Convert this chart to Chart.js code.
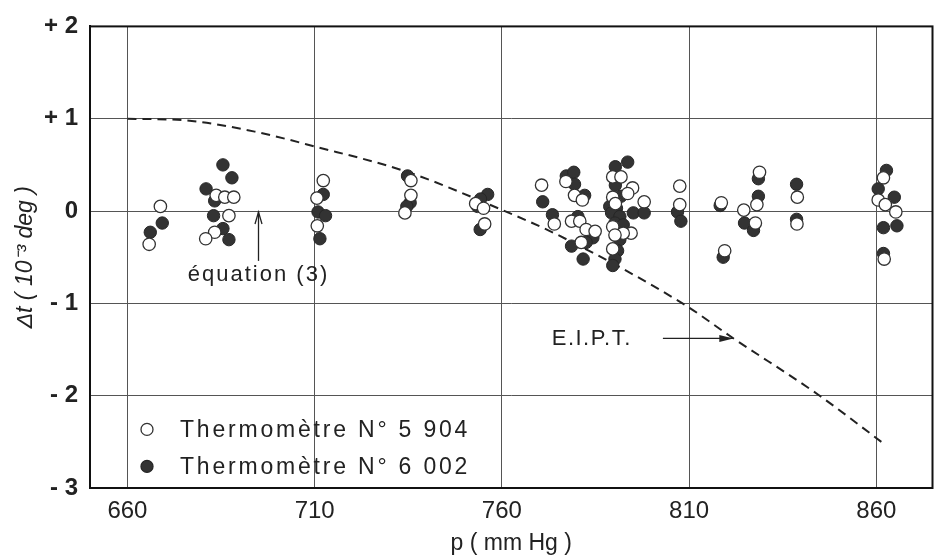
<!DOCTYPE html>
<html>
<head>
<meta charset="utf-8">
<script src="https://cdn.jsdelivr.net/npm/chart.js@4"></script>
<style>
  html, body { margin: 0; padding: 0; background: #fff; }
  #wrap { width: 940px; height: 557px; }
</style>
</head>
<body>
<div id="wrap"><canvas id="c" width="940" height="557"></canvas></div>
<script>
// pression (mm Hg) et écart Δt (10^-3 deg) — thermomètre N° 5 904 (cercles ouverts)
const p5904 = [665.8, 668.8, 683.7, 686.0, 688.4, 687.1, 683.3, 680.9,
  712.3, 710.6, 710.7, 735.7, 735.7, 734.1, 753.0, 755.1, 755.4,
  770.6, 774.0, 777.1, 779.4, 781.5, 778.6, 780.8, 782.5, 784.9, 781.2,
  789.6, 791.8, 794.9, 793.6, 789.6, 790.3, 798.0, 789.6, 794.5, 792.4, 790.2, 789.6,
  807.5, 807.5, 818.6, 819.5, 824.6, 827.7, 828.8, 828.1, 838.9, 838.8,
  861.9, 860.5, 862.4, 865.2, 862.1];
const dt5904 = [-0.36, 0.05, 0.17, 0.15, 0.15, -0.05, -0.23, -0.30,
  0.33, 0.14, -0.16, 0.33, 0.17, -0.02, 0.08, 0.03, -0.14,
  0.28, -0.14, 0.32, 0.17, 0.12, -0.11, -0.11, -0.20, -0.22, -0.34,
  0.37, 0.37, 0.25, 0.19, 0.15, 0.08, 0.10, -0.17, -0.24, -0.24, -0.26, -0.41,
  0.27, 0.07, 0.09, -0.43, 0.01, -0.13, 0.42, 0.07, 0.15, -0.14,
  0.36, 0.12, 0.07, -0.01, -0.52];

// thermomètre N° 6 002 (cercles pleins)
const p6002 = [666.1, 669.3, 685.5, 687.9, 681.0, 683.3, 683.0, 685.5, 687.1,
  712.3, 710.9, 712.9, 711.4, 734.8, 735.5, 734.6, 756.2, 754.3, 753.5, 754.2,
  770.9, 773.5, 777.2, 779.2, 779.4, 782.1, 780.3, 784.3, 782.5, 778.6, 781.7,
  793.6, 790.3, 790.3, 791.8, 788.8, 790.6, 795.1, 798.0, 789.3, 791.5, 790.2, 792.4,
  791.5, 790.9, 790.2, 789.6,
  806.9, 807.8, 818.3, 819.1, 824.8, 827.2, 828.5, 828.5, 838.7, 838.7,
  862.7, 860.5, 864.8, 861.9, 865.5, 861.9];
const dt6002 = [-0.23, -0.13, 0.50, 0.36, 0.24, 0.11, -0.05, -0.19, -0.31,
  0.18, -0.01, -0.05, -0.30, 0.38, 0.09, 0.05, 0.18, 0.13, 0.05, -0.20,
  0.10, -0.04, 0.38, 0.42, 0.29, 0.17, -0.06, -0.29, -0.34, -0.38, -0.52,
  0.53, 0.48, 0.28, 0.16, 0.05, 0.03, -0.02, -0.02, -0.02, -0.06, -0.13, -0.15,
  -0.31, -0.43, -0.52, -0.59,
  -0.01, -0.11, 0.06, -0.50, -0.13, -0.21, 0.35, 0.16, 0.29, -0.09,
  0.44, 0.24, 0.15, -0.18, -0.16, -0.46];

// courbe E.I.P.T. (tirets)
const pEipt  = [660, 676, 694, 710, 735, 759, 775, 809, 821.5, 844.5, 862];
const dtEipt = [1.0, 0.98, 0.86, 0.70, 0.42, 0.03, -0.26, -1.02, -1.37, -1.99, -2.52];

const pTicks = [660, 710, 760, 810, 860];
const dtTicks = [2, 1, 0, -1, -2, -3];
const dtTickLabels = ['+ 2', '+ 1', '0', '- 1', '- 2', '- 3'];

const seriesNames = ['Thermomètre N° 5 904', 'Thermomètre N° 6 002'];

const toXY = (xs, ys) => xs.map((x, i) => ({ x: x, y: ys[i] }));

const ink = '#222';
const fontFam = '"Liberation Sans", Arial, sans-serif';

// annotations + légende + cadre
const extras = {
  id: 'extras',
  afterDraw(chart) {
    const ctx = chart.ctx;
    const xs = chart.scales.x, ys = chart.scales.y;
    const a = chart.chartArea;
    ctx.save();
    ctx.fillStyle = ink;
    ctx.strokeStyle = ink;

    // équation (3)
    const ex = xs.getPixelForValue(695);
    ctx.font = '22px ' + fontFam;
    ctx.letterSpacing = '2px';
    ctx.textAlign = 'center';
    ctx.textBaseline = 'middle';
    ctx.fillText('équation (3)', ex, ys.getPixelForValue(-0.69));
    ctx.lineWidth = 1.3;
    ctx.beginPath();
    ctx.moveTo(ex, ys.getPixelForValue(-0.54));
    ctx.lineTo(ex, ys.getPixelForValue(-0.01));
    ctx.stroke();
    ctx.beginPath();
    const top = ys.getPixelForValue(-0.01);
    ctx.moveTo(ex - 3.5, top + 12);
    ctx.lineTo(ex, top);
    ctx.lineTo(ex + 3.5, top + 12);
    ctx.stroke();

    // E.I.P.T.
    const ty = ys.getPixelForValue(-1.38);
    ctx.font = '22px ' + fontFam;
    ctx.letterSpacing = '1.5px';
    ctx.fillText('E.I.P.T.', xs.getPixelForValue(784), ty);
    const ax0 = xs.getPixelForValue(803), ax1 = xs.getPixelForValue(821.8);
    ctx.beginPath();
    ctx.moveTo(ax0, ty);
    ctx.lineTo(ax1, ty);
    ctx.stroke();
    ctx.beginPath();
    ctx.moveTo(ax1 - 14, ty - 3.5);
    ctx.lineTo(ax1, ty);
    ctx.lineTo(ax1 - 14, ty + 3.5);
    ctx.closePath();
    ctx.fill();

    // légende
    ctx.textAlign = 'left';
    ctx.font = '23px ' + fontFam;
    ctx.letterSpacing = '2.8px';
    chart.data.datasets.slice(0, 2).forEach((ds, i) => {
      const cy = a.top + 403 + i * 37;
      const cx = a.left + 57;
      ctx.beginPath();
      ctx.arc(cx, cy, 6, 0, Math.PI * 2);
      ctx.fillStyle = ds.backgroundColor;
      ctx.fill();
      ctx.lineWidth = 1.3;
      ctx.strokeStyle = ds.borderColor;
      ctx.stroke();
      ctx.fillStyle = ink;
      ctx.fillText(seriesNames[i], a.left + 90, cy + 1);
    });

    // cadre
    ctx.lineWidth = 2;
    ctx.strokeStyle = '#111';
    ctx.strokeRect(a.left, a.top, a.right - a.left, a.bottom - a.top);
    ctx.restore();
  }
};

new Chart(document.getElementById('c').getContext('2d'), {
  type: 'scatter',
  data: {
    datasets: [
      {
        label: seriesNames[0],
        data: toXY(p5904, dt5904),
        backgroundColor: '#ffffff',
        borderColor: '#333333',
        borderWidth: 1.3,
        pointRadius: 6.2,
        pointHoverRadius: 6.2
      },
      {
        label: seriesNames[1],
        data: toXY(p6002, dt6002),
        backgroundColor: '#333333',
        borderColor: '#262626',
        borderWidth: 1,
        pointRadius: 6.2,
        pointHoverRadius: 6.2
      },
      {
        label: 'E.I.P.T.',
        data: toXY(pEipt, dtEipt),
        showLine: true,
        borderColor: '#222',
        borderWidth: 2,
        borderDash: [9, 6],
        pointRadius: 0,
        cubicInterpolationMode: 'monotone',
        fill: false
      }
    ]
  },
  options: {
    responsive: false,
    animation: false,
    layout: { padding: { top: 18, right: 3, left: 0, bottom: 0 } },
    plugins: {
      legend: { display: false },
      tooltip: { enabled: false }
    },
    scales: {
      x: {
        type: 'linear',
        min: 650,
        max: 875,
        afterBuildTicks: (axis) => { axis.ticks = pTicks.map(v => ({ value: v })); },
        afterFit: (scale) => { scale.height = 69; },
        ticks: {
          color: ink,
          font: { family: fontFam, size: 24 },
          padding: 9,
          maxRotation: 0,
          callback: (v) => String(v)
        },
        grid: { color: '#555', lineWidth: 1, drawTicks: false },
        border: { display: true, color: '#111', width: 2 },
        title: {
          display: true,
          text: 'p ( mm Hg )',
          color: ink,
          font: { family: fontFam, size: 23 },
          padding: { top: 0, bottom: 0 }
        }
      },
      y: {
        min: -3,
        max: 2,
        afterBuildTicks: (axis) => { axis.ticks = dtTicks.map(v => ({ value: v })); },
        afterFit: (scale) => { scale.width = 90; },
        ticks: {
          color: ink,
          font: { family: fontFam, size: 24, weight: 'bold' },
          padding: 12,
          callback: (v) => dtTickLabels[dtTicks.indexOf(v)]
        },
        grid: { color: '#555', lineWidth: 1, drawTicks: false },
        border: { display: true, color: '#111', width: 2 },
        title: {
          display: true,
          text: 'Δt ( 10⁻³ deg )',
          color: ink,
          font: { family: fontFam, size: 23, style: 'italic' },
          padding: { top: 12, bottom: 0 }
        }
      }
    }
  },
  plugins: [extras]
});
</script>
</body>
</html>
